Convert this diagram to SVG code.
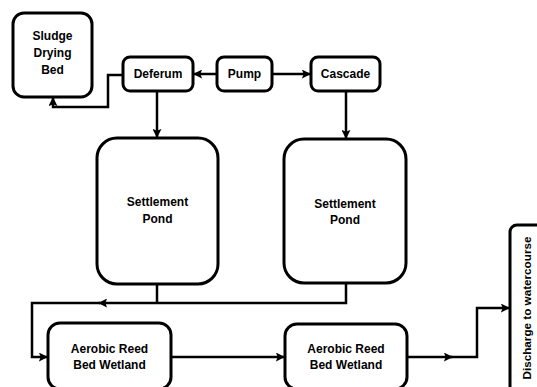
<svg xmlns="http://www.w3.org/2000/svg" width="537" height="387" viewBox="0 0 537 387">
<style>
.box{fill:#fff;stroke:#000;stroke-width:3}
.t{font-family:"Liberation Sans",Arial,sans-serif;font-weight:bold;font-size:12px;text-anchor:middle;fill:#000}
.c{fill:none;stroke:#000;stroke-width:2.5}
</style>
<defs>
<marker id="ah" markerUnits="userSpaceOnUse" markerWidth="9" markerHeight="9" viewBox="0 0 10 10" refX="9" refY="5" orient="auto">
<path d="M0,0 L10,5 L0,10 L2,5 z" fill="#000"/>
</marker>
</defs>
<rect width="537" height="387" fill="#fff"/>
<g id="connectors">
<path class="c" d="M217,74 H194" marker-end="url(#ah)"/>
<path class="c" d="M272,74 H310" marker-end="url(#ah)"/>
<path class="c" d="M123,75 H108 V107 H53 V98" marker-end="url(#ah)"/>
<path class="c" d="M157,91 V137" marker-end="url(#ah)"/>
<path class="c" d="M346,91 V138" marker-end="url(#ah)"/>
<path class="c" d="M157,284 V303"/>
<path class="c" d="M346,283 V303 H99" marker-end="url(#ah)"/>
<path class="c" d="M100,303 H32 V357 H47" marker-end="url(#ah)"/>
<path class="c" d="M171,357 H284" marker-end="url(#ah)"/>
<path class="c" d="M407,357 H452" marker-end="url(#ah)"/>
<path class="c" d="M450,357 H477 V308 H509" marker-end="url(#ah)"/>
</g>
<g id="sludge">
<rect class="box" x="13" y="13" width="79" height="84" rx="11"/>
<text class="t" x="52.5" y="40">Sludge</text>
<text class="t" x="52.5" y="57">Drying</text>
<text class="t" x="52.5" y="74">Bed</text>
</g>
<g id="deferum">
<rect class="box" x="123" y="57" width="70" height="34" rx="7"/>
<text class="t" x="158" y="78">Deferum</text>
</g>
<g id="pump">
<rect class="box" x="217" y="57" width="55" height="34" rx="7"/>
<text class="t" x="244.5" y="78">Pump</text>
</g>
<g id="cascade">
<rect class="box" x="311" y="57" width="69" height="34" rx="7"/>
<text class="t" x="345.5" y="78">Cascade</text>
</g>
<g id="pond1">
<rect class="box" x="97" y="138" width="121" height="146" rx="20"/>
<text class="t" x="157.5" y="206">Settlement</text>
<text class="t" x="157.5" y="223">Pond</text>
</g>
<g id="pond2">
<rect class="box" x="284" y="139" width="122" height="144" rx="20"/>
<text class="t" x="345" y="208">Settlement</text>
<text class="t" x="345" y="224">Pond</text>
</g>
<g id="reed1">
<rect class="box" x="48" y="323" width="123" height="66" rx="12"/>
<text class="t" x="109.5" y="353">Aerobic Reed</text>
<text class="t" x="109.5" y="369">Bed Wetland</text>
</g>
<g id="reed2">
<rect class="box" x="285" y="324" width="122" height="65" rx="12"/>
<text class="t" x="346" y="353">Aerobic Reed</text>
<text class="t" x="346" y="369">Bed Wetland</text>
</g>
<g id="discharge">
<rect class="box" x="510" y="225" width="40" height="170" rx="7"/>
<text class="t" style="font-size:11.7px" transform="translate(531,308) rotate(-90)" x="0" y="0">Discharge to watercourse</text>
</g>
</svg>
